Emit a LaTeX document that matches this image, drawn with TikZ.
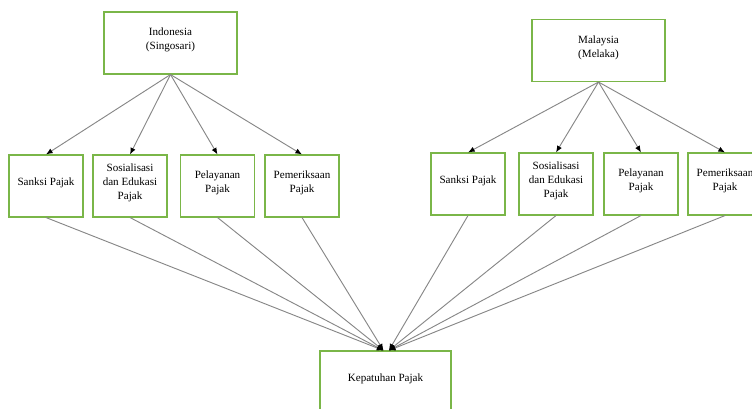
\documentclass[tikz,border=0pt]{standalone}
\usepackage{fontspec}
\setmainfont{Liberation Serif}
\usepackage{xcolor}
\usetikzlibrary{arrows.meta, positioning}
\definecolor{boxgreen}{RGB}{122,182,72}
\definecolor{linegray}{RGB}{135,135,135}

\begin{document}
\begin{tikzpicture}[
  x=0.75pt, y=-0.75pt,
  box/.style={draw=boxgreen, line width=0.8pt, minimum width=55.5pt,
              minimum height=46.5pt, align=center, inner sep=1pt,
              text depth=6.5pt, font=\fontsize{8.3}{10.5}\selectfont},
  topbox/.style={box, minimum width=99.75pt},
  arr/.style={draw=linegray, line width=0.7pt,
              -{Latex[black, length=5pt, width=4pt]}}
]
\useasboundingbox (0,0) rectangle (752,408);

% Indonesia side
\node[topbox] (ind)    at (170.5,43)  {Indonesia\\(Singosari)};
\node[box] (isanksi)   at (46,186)  {Sanksi Pajak};
\node[box] (isosial)   at (130,186) {Sosialisasi\\dan Edukasi\\Pajak};
\node[box] (ilayan)    at (217.5,186) {Pelayanan\\Pajak};
\node[box] (iperiksa)  at (302,186) {Pemeriksaan\\Pajak};

% Malaysia side
\node[topbox] (mal)    at (598.5,50.5) {Malaysia\\(Melaka)};
\node[box] (msanksi)   at (468,184) {Sanksi Pajak};
\node[box] (msosial)   at (556,184) {Sosialisasi\\dan Edukasi\\Pajak};
\node[box] (mlayan)    at (641,184) {Pelayanan\\Pajak};
\node[box] (mperiksa)  at (725,184) {Pemeriksaan\\Pajak};

% result
\node[topbox, minimum width=98.25pt] (patuh) at (385.5,382) {Kepatuhan Pajak};

\foreach \c in {isanksi, isosial, ilayan, iperiksa}
  \draw[arr] (ind.south) -- (\c.north);
\foreach \c in {msanksi, msosial, mlayan, mperiksa}
  \draw[arr] (mal.south) -- (\c.north);

\foreach \c in {isanksi, isosial, ilayan, iperiksa}
  \draw[arr] (\c.south) -- ([xshift=-1.5pt]patuh.north);
\foreach \c in {msanksi, msosial, mlayan, mperiksa}
  \draw[arr] (\c.south) -- ([xshift=2.5pt]patuh.north);
\end{tikzpicture}
\end{document}
